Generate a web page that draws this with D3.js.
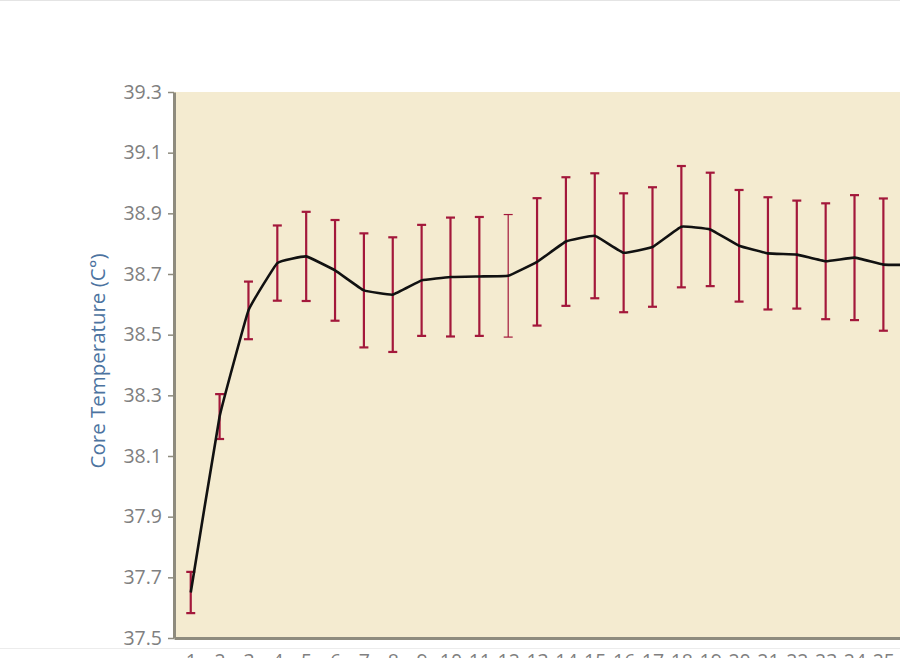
<!DOCTYPE html>
<html>
<head>
<meta charset="utf-8">
<script src="https://cdn.jsdelivr.net/npm/d3@7"></script>
<style>
    html, body { margin: 0; padding: 0; background: #ffffff; }
    svg { display: block; font-family: "Open Sans", "Noto Sans", sans-serif; }
</style>
</head>
<body>
<div id="chart"></div>
<script>
"use strict";

// measurement number along the x axis
const samples = d3.range(1, 27);

// mean core temperature per sample
const meanTemp = [37.65, 38.23, 38.58, 38.736, 38.758, 38.712, 38.646, 38.632, 38.679, 38.69,
    38.692, 38.694, 38.74, 38.807, 38.826, 38.77, 38.789, 38.856, 38.847, 38.793,
    38.768, 38.764, 38.742, 38.754, 38.731, 38.73];

// half length of each error bar (°C)
const errTemp = [0.068, 0.074, 0.095, 0.124, 0.147, 0.166, 0.188, 0.189, 0.183, 0.196,
    0.196, 0.202, 0.21, 0.212, 0.206, 0.196, 0.197, 0.2, 0.187, 0.184,
    0.185, 0.178, 0.191, 0.206, 0.218, 0.2];

// y axis tick labels
const yTicks = [37.5, 37.7, 37.9, 38.1, 38.3, 38.5, 38.7, 38.9, 39.1, 39.3];

const data = samples.map((s, i) => ({ s: s, mean: meanTemp[i], err: errTemp[i] }));

const width = 900, height = 658;
const plotLeft = 174, plotTop = 92, plotBottom = 638;

const svg = d3.select("#chart").append("svg")
    .attr("width", width)
    .attr("height", height);

// scales
const x = d3.scaleLinear().domain([0.42, 26.5]).range([plotLeft, plotLeft + 26.08 * 28.86]);
const y = d3.scaleLinear().domain([37.5, 39.3]).range([plotBottom, plotTop]);

// thin page edges seen in the picture
svg.append("line").attr("x1", 0).attr("x2", width).attr("y1", 0.5).attr("y2", 0.5)
    .attr("stroke", "#e4e4e4");
svg.append("line").attr("x1", 0).attr("x2", width).attr("y1", 648.5).attr("y2", 648.5)
    .attr("stroke", "#ececec");

// plot background
svg.append("rect")
    .attr("x", plotLeft).attr("y", plotTop)
    .attr("width", width - plotLeft).attr("height", plotBottom - plotTop)
    .attr("fill", "#f4ebd0");

// error bars
const bars = svg.append("g").selectAll("g")
    .data(data)
    .enter().append("g")
    .attr("stroke", "#a3183b")
    .attr("stroke-width", d => d.s === 12 ? 1.2 : 2.2);

bars.append("line")
    .attr("x1", d => x(d.s)).attr("x2", d => x(d.s))
    .attr("y1", d => y(d.mean + d.err)).attr("y2", d => y(d.mean - d.err));
bars.append("line")
    .attr("x1", d => x(d.s) - 4.5).attr("x2", d => x(d.s) + 4.5)
    .attr("y1", d => y(d.mean + d.err)).attr("y2", d => y(d.mean + d.err));
bars.append("line")
    .attr("x1", d => x(d.s) - 4.5).attr("x2", d => x(d.s) + 4.5)
    .attr("y1", d => y(d.mean - d.err)).attr("y2", d => y(d.mean - d.err));

// mean line, only lightly rounded like the original
const line = d3.line()
    .x(d => x(d.s))
    .y(d => y(d.mean))
    .curve(d3.curveCardinal.tension(0.75));

svg.append("path")
    .datum(data)
    .attr("d", line)
    .attr("fill", "none")
    .attr("stroke", "#111111")
    .attr("stroke-width", 2.6)
    .attr("stroke-linejoin", "round");

// y axis
const yAxis = svg.append("g")
    .attr("transform", "translate(" + plotLeft + ",0)")
    .call(d3.axisLeft(y).tickValues(yTicks).tickFormat(d3.format(".1f")).tickSize(6).tickSizeOuter(0));
yAxis.select(".domain").attr("stroke", "#8e8b7e").attr("stroke-width", 3);
yAxis.selectAll(".tick line").attr("stroke", "#8e8b7e").attr("stroke-width", 1.5);
yAxis.selectAll(".tick text")
    .attr("x", -12)
    .attr("fill", "#808080")
    .attr("font-size", 19.5)
    .attr("font-family", "Open Sans, sans-serif");

// x axis (labels are cut by the page edge, as in the original)
const xAxis = svg.append("g")
    .attr("transform", "translate(0," + plotBottom + ")")
    .call(d3.axisBottom(x).tickValues(samples).tickFormat(d3.format("d")).tickSize(0).tickSizeOuter(0));
xAxis.select(".domain").attr("stroke", "#8e8b7e").attr("stroke-width", 3);
xAxis.selectAll(".tick text")
    .attr("y", 16)
    .attr("dy", "0.71em")
    .attr("fill", "#808080")
    .attr("font-size", 19.5)
    .attr("font-family", "Open Sans, sans-serif");

// y axis title
svg.append("text")
    .attr("transform", "translate(105,361) rotate(-90)")
    .attr("text-anchor", "middle")
    .attr("fill", "#4c73a0")
    .attr("font-size", 20.5)
    .text("Core Temperature (C°)");
</script>
</body>
</html>
